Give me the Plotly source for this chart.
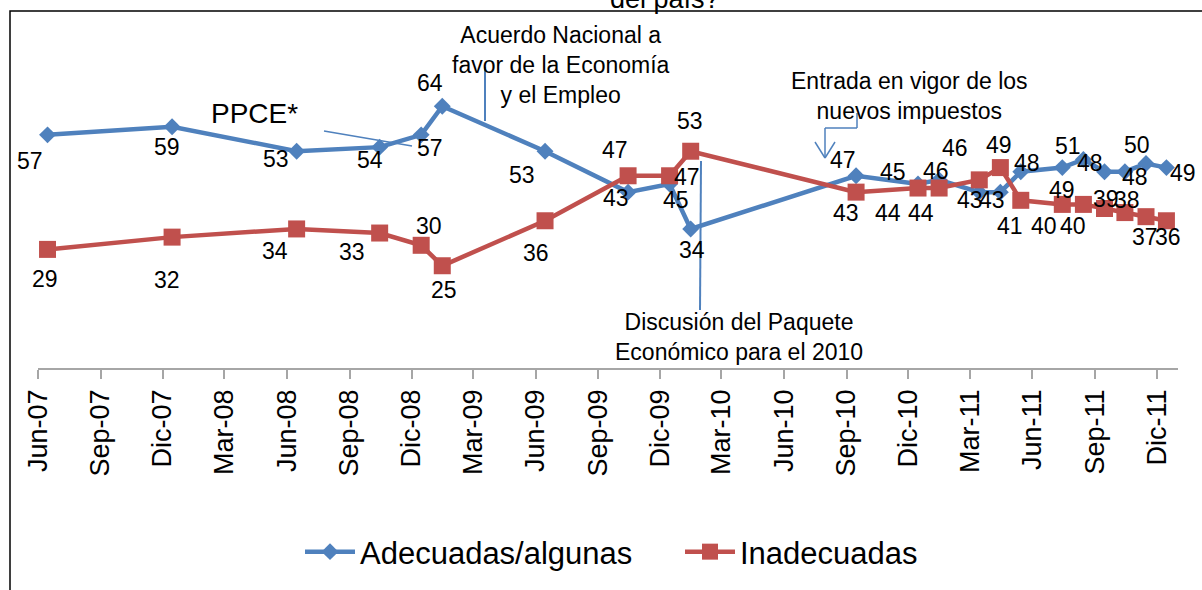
import plotly.graph_objects as go

# ---------------- data ----------------
dates = ["2007-06-15", "2007-12-15", "2008-06-15", "2008-10-15", "2008-12-15",
         "2009-01-15", "2009-06-15", "2009-10-15", "2009-12-15", "2010-01-15",
         "2010-09-15", "2010-12-15", "2011-01-15", "2011-03-15", "2011-04-15",
         "2011-05-15", "2011-07-15", "2011-08-15", "2011-09-15", "2011-10-15",
         "2011-11-15", "2011-12-15"]
adecuadas = [57, 59, 53, 54, 57, 64, 53, 43, 45, 34, 47, 45, 46, 43, 43, 48, 49, 51, 48, 48, 50, 49]
inadecuadas = [29, 32, 34, 33, 30, 25, 36, 47, 47, 53, 43, 44, 44, 46, 49, 41, 40, 40, 39, 38, 37, 36]

tick_dates = ["2007-06-01", "2007-09-01", "2007-12-01", "2008-03-01", "2008-06-01",
              "2008-09-01", "2008-12-01", "2009-03-01", "2009-06-01", "2009-09-01",
              "2009-12-01", "2010-03-01", "2010-06-01", "2010-09-01", "2010-12-01",
              "2011-03-01", "2011-06-01", "2011-09-01", "2011-12-01"]
tick_labels = ["Jun-07", "Sep-07", "Dic-07", "Mar-08", "Jun-08", "Sep-08", "Dic-08",
               "Mar-09", "Jun-09", "Sep-09", "Dic-09", "Mar-10", "Jun-10", "Sep-10",
               "Dic-10", "Mar-11", "Jun-11", "Sep-11", "Dic-11"]

series_names = ["Adecuadas/algunas", "Inadecuadas"]
title_text = "del país?"

# --------------- styling ---------------
W, H = 1202, 590
PLOT_L, PLOT_R, PLOT_B = 38, 1178, 368   # plot area edges in pixels
L = PLOT_L
R = W - PLOT_R
T = 0
B = H - PLOT_B
PW, PH = W - L - R, H - T - B
PX_PER_UNIT = 4.09
FONT = "Liberation Sans, Arial, sans-serif"
BLUE = "#4F81BD"
RED = "#C0504D"

# label offsets in pixels (dx right, dy down)
blue_off = [(-18, 26), (-5, 20), (-21, 8), (-10, 13), (9, 13), (-12, -23), (-23, 24),
            (-12, 6), (6, 16), (1, 21), (-13, -16), (-25, -12), (-3, -9), (-9, 8),
            (-8, 8), (6, -9), (0, 22), (-15, -13), (-15, -9), (10, 5), (-9, -19), (17, 5)]
red_off = [(-3, 30), (-5, 43), (-22, 22), (-28, 19), (8, -19), (2, 24), (-9, 32),
           (-13, -26), (17, 1), (-1, -30), (-10, 21), (-30, 25), (-18, 25), (-24, -32),
           (-1, -23), (-11, 26), (-18, 22), (-10, 22), (1, -9), (2, -13), (-1, 20), (2, 16)]


def xp(px):
    return (px - L) / PW


def yp(py):
    return 1 - (py - T) / PH


fig = go.Figure()
fig.add_trace(go.Scatter(x=dates, y=adecuadas, name=series_names[0], mode="lines+markers",
                         line=dict(color=BLUE, width=4.5),
                         marker=dict(symbol="diamond", size=13, color=BLUE)))
fig.add_trace(go.Scatter(x=dates, y=inadecuadas, name=series_names[1], mode="lines+markers",
                         line=dict(color=RED, width=4.5),
                         marker=dict(symbol="square", size=17, color=RED)))

ann = []
for vals, offs in ((adecuadas, blue_off), (inadecuadas, red_off)):
    for d, v, (dx, dy) in zip(dates, vals, offs):
        ann.append(dict(x=d, y=v, xref="x", yref="y", text=str(v), showarrow=False,
                        xshift=dx, yshift=-dy, font=dict(family=FONT, size=23, color="black")))

ann += [
    dict(x=xp(665), y=yp(-1), xref="paper", yref="paper", text=title_text, showarrow=False,
         font=dict(family=FONT, size=27, color="black"), xanchor="center", yanchor="middle"),
    dict(x=xp(254), y=yp(114), xref="paper", yref="paper", text="PPCE*", showarrow=False,
         font=dict(family=FONT, size=28, color="black"), xanchor="center", yanchor="middle"),
    dict(x=xp(561), y=yp(65), xref="paper", yref="paper",
         text="Acuerdo Nacional a<br>favor de la Economía<br>y el Empleo", showarrow=False,
         font=dict(family=FONT, size=23, color="black"), xanchor="center", yanchor="middle"),
    dict(x=xp(909), y=yp(96), xref="paper", yref="paper",
         text="Entrada en vigor de los<br>nuevos impuestos", showarrow=False,
         font=dict(family=FONT, size=23, color="black"), xanchor="center", yanchor="middle"),
    dict(x=xp(739), y=yp(337), xref="paper", yref="paper",
         text="Discusión del Paquete<br>Económico para el 2010", showarrow=False,
         font=dict(family=FONT, size=23, color="black"), xanchor="center", yanchor="middle"),
]


def seg(x0, y0, x1, y1, color=BLUE, width=1.5):
    return dict(type="line", xref="paper", yref="paper", x0=xp(x0), y0=yp(y0),
                x1=xp(x1), y1=yp(y1), line=dict(color=color, width=width), layer="above")


shapes = [
    # chart frame (top and left visible)
    dict(type="rect", xref="paper", yref="paper", x0=xp(10), y0=yp(11), x1=xp(1260), y1=yp(650),
         line=dict(color="black", width=1.5), fillcolor="rgba(0,0,0,0)", layer="below"),
    seg(324, 131, 412, 146),
    seg(485, 67, 485, 121, width=2),
    seg(701, 161, 700, 310, width=2),
    seg(857, 113, 857, 128),
    seg(857, 128, 825, 128),
    seg(825, 128, 825, 158),
    seg(815, 142, 825, 158),
    seg(835, 142, 825, 158),
]

fig.update_layout(
    width=W, height=H,
    margin=dict(l=L, r=R, t=T, b=B, pad=0),
    paper_bgcolor="white", plot_bgcolor="white",
    font=dict(family=FONT, color="black"),
    showlegend=True,
    legend=dict(orientation="h", x=xp(300), xanchor="left", y=yp(552), yanchor="middle",
                font=dict(family=FONT, size=31, color="black"), bgcolor="rgba(0,0,0,0)",
                itemwidth=50, entrywidth=315, entrywidthmode="pixels"),
    annotations=ann,
    shapes=shapes,
    xaxis=dict(type="date", range=["2007-06-01", "2012-01-01"], tickmode="array",
               tickvals=tick_dates, ticktext=tick_labels, tickangle=-90,
               tickfont=dict(family=FONT, size=27, color="black"),
               ticks="outside", ticklen=9, tickwidth=1.5, tickcolor="#A6A6A6",
               showline=True, linecolor="#A6A6A6", linewidth=1.5,
               showgrid=False, zeroline=False, automargin=False, fixedrange=True),
    yaxis=dict(range=[0, PH / PX_PER_UNIT], visible=False, showgrid=False, zeroline=False,
               automargin=False, fixedrange=True),
)

fig.write_html("out.html", config={"displayModeBar": False},
               post_script="document.body.style.margin='0';")
